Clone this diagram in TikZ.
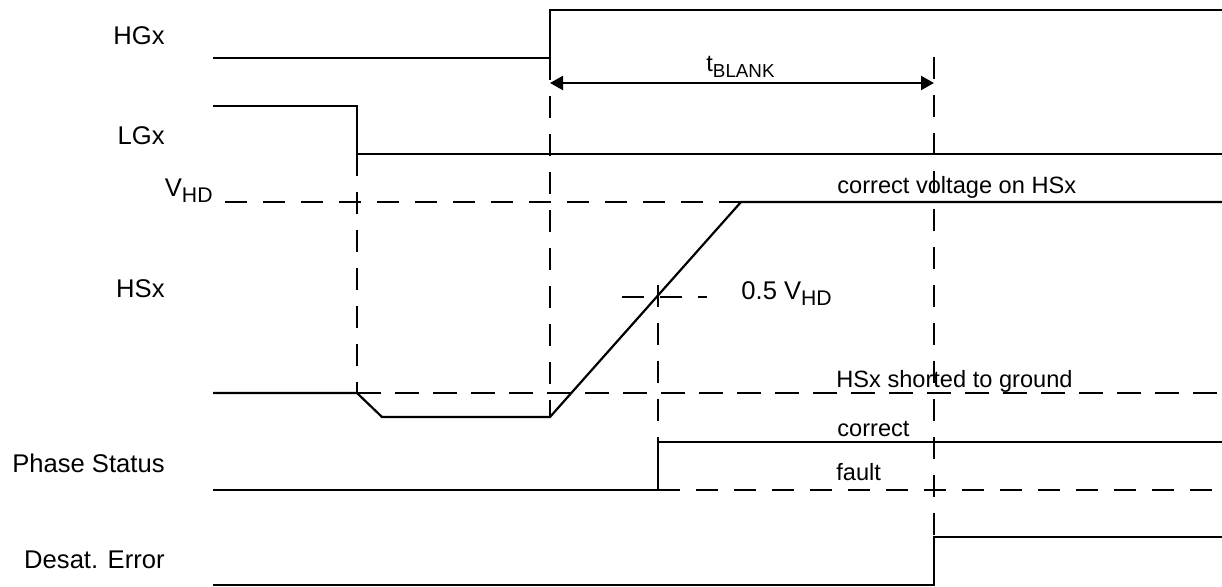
\documentclass[tikz,border=0pt]{standalone}
\usepackage{fontspec}
\setmainfont{Liberation Sans}
\usetikzlibrary{arrows.meta}
\newcommand{\subtxt}[2][10.6]{\raisebox{-2.8pt}{\fontsize{#1}{12}\selectfont #2}}

\begin{document}
\begin{tikzpicture}[x=0.5pt, y=-0.5pt,
    signal/.style={line width=1.1pt},
    guide/.style={line width=1.1pt, dash pattern=on 11pt off 8pt},
    gndline/.style={line width=1.35pt, dash pattern=on 12pt off 7pt},
    siglabel/.style={anchor=base east, inner sep=0pt, font=\fontsize{12.8}{15}\selectfont},
    note/.style={anchor=base west, inner sep=0pt, font=\fontsize{11.8}{14}\selectfont},
    arrow/.style={{Triangle[length=6.5pt,width=7pt]}-{Triangle[length=6.5pt,width=7pt]}, line width=1.1pt}
]
\useasboundingbox (0,0) rectangle (1222,587);

% Signal names
\node[siglabel] (hgx) at (165,45) {HGx};
\node[siglabel] (lgx) at (165,145) {LGx};
\node[siglabel] (vhd) at (213,197) {V\subtxt{HD}};
\node[siglabel] (hsx) at (165,298) {HSx};
\node[siglabel] (phase) at (165,473) {Phase Status};
\node[siglabel] (desat) at (165,569) {Desat. Error};

% Waveforms
\draw[signal] (213,58) -- (550,58) -- (550,10) -- (1222,10);
\draw[signal] (213,106) -- (357,106) -- (357,154) -- (1222,154);
\draw[signal] (213,393) -- (357,393) -- (382,417) -- (550,417) -- (741,202) -- (1222,202);
\draw[signal] (213,490) -- (658,490) -- (658,442) -- (1222,442);
\draw[signal] (213,585) -- (934,585) -- (934,537) -- (1222,537);

% Guide lines
\draw[guide] (357,154) -- (357,393);
\draw[guide] (550,58) -- (550,417);
\draw[guide] (658,285) -- (658,442);
\draw[guide] (934,57) -- (934,537);
\draw[guide] (225,202) -- (741,202);
\draw[guide] (622,297) -- (707,297);
\draw[guide] (658,490) -- (1222,490);
\draw[gndline] (357,393) -- (1222,393);

% Blanking time
\coordinate (blankA) at (550,83);
\coordinate (blankB) at (934,83);
\draw[arrow] (blankA) -- (blankB);
\node[note] (tblank) at (706,72) {t\subtxt[9.4]{BLANK}};

% Annotations
\node[note] (okv) at (837,194) {correct voltage on HSx};
\node[note, font=\fontsize{12.8}{15}\selectfont] (half) at (741,300) {0.5 V\subtxt{HD}};
\node[note] (short) at (836,388) {HSx shorted to ground};
\node[note] (ok) at (837,436.5) {correct};
\node[note] (fault) at (836,481) {fault};

\end{tikzpicture}
\end{document}
